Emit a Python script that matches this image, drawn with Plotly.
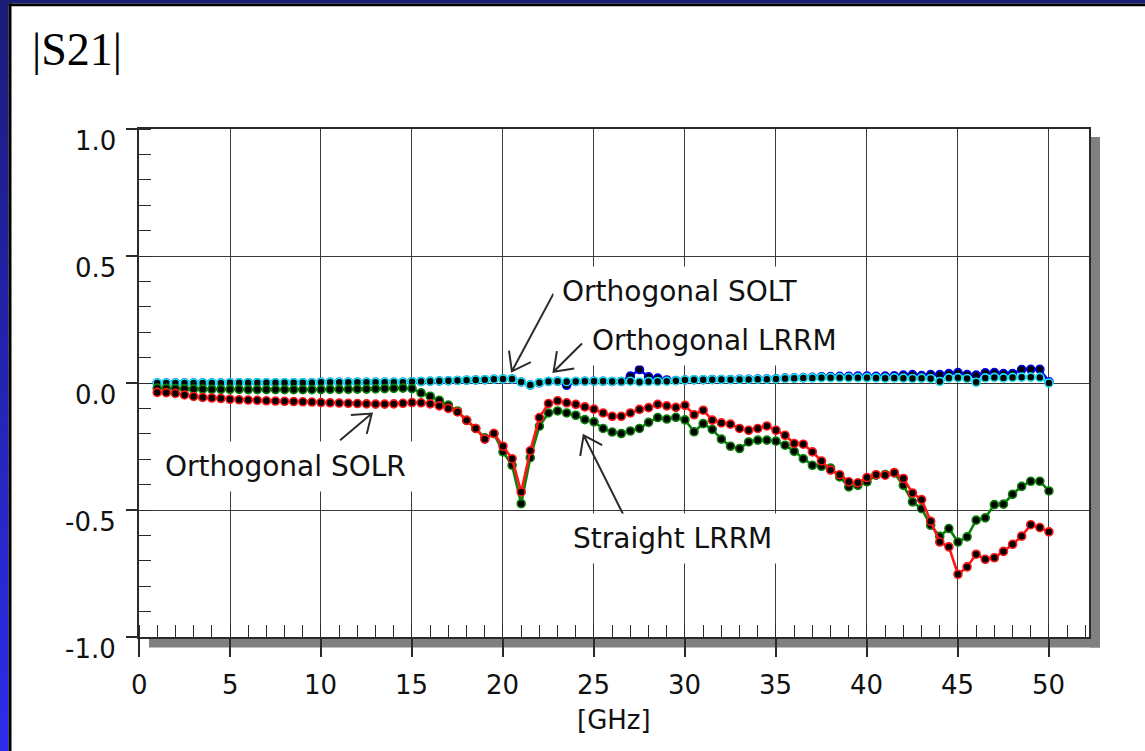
import math
import plotly.graph_objects as go

# ---------------- data ----------------
freq_ghz = [1.0, 1.5, 2.0, 2.5, 3.0, 3.5, 4.0, 4.5, 5.0, 5.5,
            6.0, 6.5, 7.0, 7.5, 8.0, 8.5, 9.0, 9.5, 10.0, 10.5,
            11.0, 11.5, 12.0, 12.5, 13.0, 13.5, 14.0, 14.5, 15.0, 15.5,
            16.0, 16.5, 17.0, 17.5, 18.0, 18.5, 19.0, 19.5, 20.0, 20.5,
            21.0, 21.5, 22.0, 22.5, 23.0, 23.5, 24.0, 24.5, 25.0, 25.5,
            26.0, 26.5, 27.0, 27.5, 28.0, 28.5, 29.0, 29.5, 30.0, 30.5,
            31.0, 31.5, 32.0, 32.5, 33.0, 33.5, 34.0, 34.5, 35.0, 35.5,
            36.0, 36.5, 37.0, 37.5, 38.0, 38.5, 39.0, 39.5, 40.0, 40.5,
            41.0, 41.5, 42.0, 42.5, 43.0, 43.5, 44.0, 44.5, 45.0, 45.5,
            46.0, 46.5, 47.0, 47.5, 48.0, 48.5, 49.0, 49.5, 50.0]

s21_orthogonal_solt = [0.000, 0.000, 0.000, 0.000, 0.000, 0.000, 0.000, 0.000, 0.001, 0.001,
                       0.001, 0.001, 0.001, 0.001, 0.001, 0.001, 0.001, 0.001, 0.003, 0.003,
                       0.003, 0.003, 0.003, 0.003, 0.003, 0.003, 0.003, 0.003, 0.005, 0.006,
                       0.007, 0.008, 0.009, 0.010, 0.011, 0.012, 0.013, 0.015, 0.016, 0.016,
                       0.004, -0.008, 0.001, 0.006, 0.007, -0.009, 0.006, 0.007, 0.007, 0.007,
                       0.006, 0.006, 0.027, 0.053, 0.024, 0.019, 0.012, 0.010, 0.012, 0.013,
                       0.013, 0.014, 0.014, 0.014, 0.015, 0.015, 0.016, 0.016, 0.017, 0.019,
                       0.020, 0.021, 0.022, 0.024, 0.025, 0.026, 0.026, 0.027, 0.027, 0.026,
                       0.027, 0.028, 0.031, 0.033, 0.029, 0.033, 0.033, 0.037, 0.041, 0.033,
                       0.031, 0.040, 0.041, 0.037, 0.037, 0.053, 0.054, 0.054, 0.005]

s21_orthogonal_lrrm = [0.000, 0.000, 0.000, 0.000, 0.000, 0.000, 0.000, 0.000, 0.001, 0.001,
                       0.001, 0.001, 0.001, 0.001, 0.001, 0.001, 0.001, 0.001, 0.003, 0.003,
                       0.003, 0.003, 0.003, 0.003, 0.003, 0.003, 0.003, 0.003, 0.005, 0.006,
                       0.007, 0.008, 0.009, 0.010, 0.011, 0.012, 0.013, 0.015, 0.016, 0.016,
                       0.004, -0.008, 0.001, 0.006, 0.007, 0.005, 0.006, 0.007, 0.007, 0.007,
                       0.006, 0.006, 0.007, 0.004, 0.006, 0.006, 0.007, 0.009, 0.012, 0.013,
                       0.013, 0.013, 0.014, 0.013, 0.014, 0.014, 0.015, 0.015, 0.016, 0.018,
                       0.019, 0.020, 0.020, 0.021, 0.021, 0.021, 0.021, 0.021, 0.021, 0.020,
                       0.019, 0.020, 0.019, 0.018, 0.019, 0.018, 0.006, 0.020, 0.021, 0.018,
                       0.003, 0.020, 0.022, 0.020, 0.022, 0.023, 0.023, 0.022, 0.000]

s21_orthogonal_solr = [-0.037, -0.038, -0.041, -0.047, -0.053, -0.057, -0.059, -0.061, -0.064, -0.066,
                       -0.067, -0.068, -0.070, -0.071, -0.072, -0.073, -0.074, -0.075, -0.077, -0.078,
                       -0.079, -0.080, -0.081, -0.082, -0.083, -0.083, -0.082, -0.080, -0.077, -0.078,
                       -0.082, -0.090, -0.100, -0.114, -0.147, -0.179, -0.221, -0.199, -0.249, -0.298,
                       -0.429, -0.267, -0.136, -0.081, -0.070, -0.078, -0.084, -0.094, -0.103, -0.118,
                       -0.131, -0.131, -0.118, -0.104, -0.097, -0.084, -0.090, -0.096, -0.088, -0.125,
                       -0.107, -0.146, -0.157, -0.162, -0.179, -0.186, -0.179, -0.169, -0.186, -0.206,
                       -0.238, -0.241, -0.271, -0.307, -0.343, -0.361, -0.389, -0.393, -0.372, -0.361,
                       -0.363, -0.353, -0.376, -0.433, -0.459, -0.544, -0.626, -0.645, -0.753, -0.724,
                       -0.674, -0.694, -0.688, -0.663, -0.635, -0.603, -0.558, -0.569, -0.586]

s21_straight_lrrm = [-0.020, -0.021, -0.022, -0.023, -0.024, -0.024, -0.025, -0.025, -0.025, -0.025,
                     -0.026, -0.026, -0.026, -0.026, -0.026, -0.026, -0.026, -0.026, -0.026, -0.025,
                     -0.025, -0.025, -0.024, -0.024, -0.023, -0.022, -0.021, -0.020, -0.022, -0.039,
                     -0.052, -0.068, -0.087, -0.110, -0.147, -0.179, -0.216, -0.199, -0.271, -0.324,
                     -0.475, -0.294, -0.170, -0.118, -0.110, -0.118, -0.127, -0.144, -0.153, -0.179,
                     -0.193, -0.199, -0.189, -0.179, -0.155, -0.136, -0.142, -0.135, -0.145, -0.192,
                     -0.160, -0.183, -0.221, -0.249, -0.258, -0.232, -0.225, -0.225, -0.229, -0.245,
                     -0.269, -0.298, -0.324, -0.328, -0.335, -0.370, -0.409, -0.403, -0.389, -0.363,
                     -0.360, -0.354, -0.403, -0.468, -0.495, -0.560, -0.604, -0.573, -0.626, -0.606,
                     -0.540, -0.531, -0.479, -0.477, -0.438, -0.407, -0.387, -0.387, -0.425]

x_tick_values = [0, 5, 10, 15, 20, 25, 30, 35, 40, 45, 50]
x_tick_labels = ["0", "5", "10", "15", "20", "25", "30", "35", "40", "45", "50"]
y_tick_values = [1.0, 0.5, 0.0, -0.5, -1.0]
y_tick_labels = ["1.0", "0.5", "0.0", "-0.5", "-1.0"]

series_names = ["Orthogonal SOLT", "Orthogonal LRRM", "Straight LRRM", "Orthogonal SOLR"]

# ---------------- layout geometry ----------------
W, H = 1145, 751
ML, MR, MT, MB = 139, 56, 129, 114
PW = W - ML - MR
PH = H - MT - MB


def px(xp):
    return (xp - ML) / PW


def py(yp):
    return (H - MB - yp) / PH


SANS = "DejaVu Sans"
SERIF = "Liberation Serif, Times New Roman, serif"
AX = "#2a2a2a"

fig = go.Figure()

traces = [
    (s21_orthogonal_solt, "#0000e6", series_names[0]),
    (s21_orthogonal_lrrm, "#19e3ef", series_names[1]),
    (s21_straight_lrrm, "#0b800b", series_names[2]),
    (s21_orthogonal_solr, "#ff1616", series_names[3]),
]
for vals, col, name in traces:
    fig.add_trace(go.Scatter(
        x=freq_ghz, y=vals, mode="lines+markers", name=name,
        line=dict(color=col, width=2.6),
        marker=dict(color="black", size=8, line=dict(color=col, width=1.6)),
        showlegend=False, cliponaxis=False,
    ))

shapes = []
# frame: blue gradient strip on the left, navy strip on top, black rules
N = 40
c0 = (27, 27, 120)
c1 = (44, 44, 236)
for k in range(N):
    t = k / (N - 1)
    col = "rgb(%d,%d,%d)" % tuple(round(a + (b - a) * t) for a, b in zip(c0, c1))
    shapes.append(dict(type="rect", xref="paper", yref="paper",
                       x0=px(0), x1=px(8.5), y0=py(H * k / N), y1=py(H * (k + 1) / N + 1),
                       fillcolor=col, line=dict(width=0), layer="above"))
shapes.append(dict(type="rect", xref="paper", yref="paper", x0=px(0), x1=px(W), y0=py(0), y1=py(3.5),
                   fillcolor="rgb(27,27,120)", line=dict(width=0), layer="above"))
shapes.append(dict(type="rect", xref="paper", yref="paper", x0=px(8.5), x1=px(11.5), y0=py(3.5), y1=py(H),
                   fillcolor="black", line=dict(width=0), layer="above"))
shapes.append(dict(type="rect", xref="paper", yref="paper", x0=px(8.5), x1=px(W), y0=py(3.5), y1=py(6.3),
                   fillcolor="black", line=dict(width=0), layer="above"))
# drop shadow of the plot box
shapes.append(dict(type="rect", xref="paper", yref="paper", x0=px(149), x1=px(1100), y0=py(638), y1=py(647.5),
                   fillcolor="#808080", line=dict(width=0), layer="below"))
shapes.append(dict(type="rect", xref="paper", yref="paper", x0=px(1090), x1=px(1100), y0=py(137), y1=py(647.5),
                   fillcolor="#808080", line=dict(width=0), layer="below"))

# arrows with open "V" heads (tip in data units, tail offset in pixels, y up)
arrows = [
    (20.49, 0.046, 41.6, 77.7),
    (22.78, 0.044, 28.4, 28.4),
    (12.79, -0.120, -31.7, -26.7),
    (24.43, -0.206, 41.7, -83.3),
]
HEAD_LEN = 21
HEAD_ANG = math.radians(36)
for tx, ty, dx, dy in arrows:
    ang = math.atan2(dy, dx)
    a1 = (HEAD_LEN * math.cos(ang + HEAD_ANG), HEAD_LEN * math.sin(ang + HEAD_ANG))
    a2 = (HEAD_LEN * math.cos(ang - HEAD_ANG), HEAD_LEN * math.sin(ang - HEAD_ANG))
    path = "M%.1f,%.1f L0,0 M%.1f,%.1f L0,0 L%.1f,%.1f" % (dx, dy, a1[0], a1[1], a2[0], a2[1])
    shapes.append(dict(type="path", xref="x", yref="y", xsizemode="pixel", ysizemode="pixel",
                       xanchor=tx, yanchor=ty, path=path,
                       line=dict(color="#2b2b2b", width=2), layer="above"))

annotations = []
# title
annotations.append(dict(text="|S21|", xref="paper", yref="paper", x=px(30), y=py(49.5),
                        xanchor="left", yanchor="middle", showarrow=False,
                        font=dict(family=SERIF, size=46, color="black")))
# labels with white boxes
labels = [
    ("Orthogonal SOLT", 562, 291),
    ("Orthogonal LRRM", 592, 340.5),
    ("Orthogonal SOLR", 165, 467),
    ("Straight LRRM", 573, 538.5),
]
PAD = 8
for txt, lx, cy in labels:
    annotations.append(dict(text=txt, xref="paper", yref="paper", x=px(lx - PAD - 1), y=py(cy),
                            xanchor="left", yanchor="middle", showarrow=False,
                            bgcolor="white", borderpad=PAD,
                            font=dict(family=SANS, size=28, color="#111111")))
# tick labels
for v, lab in zip(y_tick_values, y_tick_labels):
    annotations.append(dict(text=lab, xref="paper", yref="y", x=px(118), y=v, yshift=-12,
                            xanchor="right", yanchor="middle", showarrow=False,
                            font=dict(family=SANS, size=26, color="#111111")))
for v, lab in zip(x_tick_values, x_tick_labels):
    annotations.append(dict(text=lab, xref="x", yref="paper", x=v, y=py(684.5),
                            xanchor="center", yanchor="middle", showarrow=False,
                            font=dict(family=SANS, size=26, color="#111111")))
annotations.append(dict(text="[GHz]", xref="paper", yref="paper", x=0.5, y=py(720),
                        xanchor="center", yanchor="middle", showarrow=False,
                        font=dict(family=SANS, size=26, color="#111111")))

fig.update_layout(
    width=W, height=H,
    margin=dict(l=ML, r=MR, t=MT, b=MB, pad=0),
    paper_bgcolor="white", plot_bgcolor="white",
    shapes=shapes, annotations=annotations,
    showlegend=False,
)
fig.update_xaxes(
    range=[0, 52.2], tickvals=x_tick_values, showticklabels=False,
    showline=True, linecolor=AX, linewidth=1.8, mirror=True,
    showgrid=True, gridcolor="#3a3a3a", gridwidth=1.4, zeroline=False,
    ticks="outside", ticklen=18, tickcolor=AX, tickwidth=1.5,
    minor=dict(dtick=1, tick0=0, ticks="inside", ticklen=12, tickcolor=AX, tickwidth=1.3, showgrid=False),
)
fig.update_yaxes(
    range=[-1, 1], tickvals=y_tick_values, showticklabels=False,
    showline=True, linecolor=AX, linewidth=1.8, mirror=True,
    showgrid=True, gridcolor="#3a3a3a", gridwidth=1.4, zeroline=False,
    ticks="outside", ticklen=11, tickcolor=AX, tickwidth=1.5,
    minor=dict(dtick=0.1, tick0=0, ticks="inside", ticklen=12, tickcolor=AX, tickwidth=1.3, showgrid=False),
)

fig.write_html("out.html")
